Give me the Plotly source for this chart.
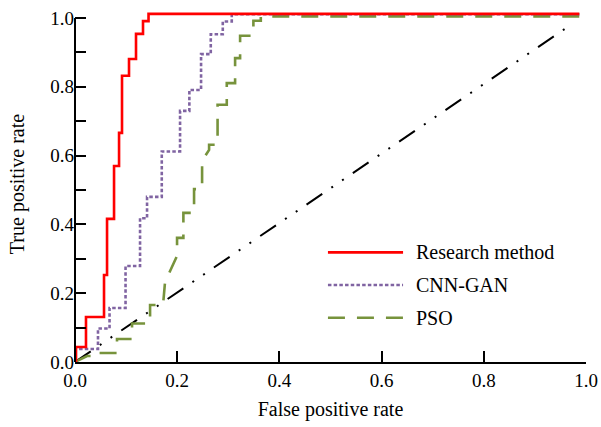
import plotly.graph_objects as go

# ROC curve vertices (False positive rate, True positive rate)
research_fpr = [0.0, 0.002, 0.002, 0.0215, 0.0215, 0.0568, 0.0568, 0.0627, 0.0627, 0.0764, 0.0764,
                0.0862, 0.0862, 0.092, 0.092, 0.1057, 0.1057, 0.1194, 0.1194, 0.1331, 0.1331,
                0.1439, 0.1439, 0.987]
research_tpr = [0.0, 0.0, 0.0436, 0.0436, 0.131, 0.131, 0.253, 0.253, 0.416, 0.416, 0.570,
                0.570, 0.666, 0.666, 0.832, 0.832, 0.881, 0.881, 0.954, 0.954, 0.991,
                0.991, 1.012, 1.012]

cnn_gan_fpr = [0.0, 0.0, 0.045, 0.045, 0.0676, 0.0676, 0.0989, 0.0989, 0.1273, 0.1273, 0.141, 0.141,
               0.1698, 0.1698, 0.2056, 0.2056, 0.2238, 0.2238, 0.2467, 0.2467, 0.2657, 0.2657,
               0.2892, 0.2892, 0.3068, 0.3068, 0.987]
cnn_gan_tpr = [0.0, 0.0378, 0.0378, 0.0975, 0.0975, 0.157, 0.157, 0.279, 0.279, 0.418, 0.418, 0.480,
               0.480, 0.612, 0.612, 0.730, 0.730, 0.791, 0.791, 0.895, 0.895, 0.953,
               0.953, 0.990, 0.990, 1.011, 1.011]

pso_fpr = [0.0, 0.0235, 0.045, 0.045, 0.0822, 0.0822, 0.1116, 0.1116, 0.1469, 0.1469, 0.1723, 0.1762,
           0.1997, 0.1997, 0.2121, 0.2121, 0.233, 0.233, 0.2487, 0.2487, 0.2624, 0.2624, 0.279, 0.279,
           0.297, 0.297, 0.3133, 0.3133, 0.3231, 0.3231, 0.3491, 0.3491, 0.3636, 0.3636, 0.987]
pso_tpr = [0.0, 0.0175, 0.0175, 0.0262, 0.0262, 0.0669, 0.0669, 0.112, 0.112, 0.1658, 0.1658, 0.2328,
           0.3084, 0.3608, 0.3608, 0.4335, 0.4335, 0.5025, 0.5025, 0.5848, 0.6168, 0.6314, 0.6314, 0.7478,
           0.7478, 0.8109, 0.8109, 0.8836, 0.8836, 0.9485, 0.9485, 0.9921, 0.9921, 1.0047, 1.0047]

chance_fpr = [0.0, 0.975]
chance_tpr = [0.0, 0.985]

series_names = ["Research method", "CNN-GAN", "PSO"]
x_ticks = [0.0, 0.2, 0.4, 0.6, 0.8, 1.0]
y_ticks = [0.0, 0.2, 0.4, 0.6, 0.8, 1.0]

FONT = "Times New Roman, Liberation Serif, DejaVu Serif, serif"
RED = "#ff0000"
PURPLE = "#8064a2"
GREEN = "#77933c"
RED_DASH = "solid"
PURPLE_DASH = "3.5px,2.2px"
GREEN_DASH = "17px,12px"

fig = go.Figure()
fig.add_trace(go.Scatter(x=chance_fpr, y=chance_tpr, mode="lines", showlegend=False,
                         line=dict(color="black", width=2, dash="19px,11px,2px,11px,2px,11px")))
fig.add_trace(go.Scatter(x=pso_fpr, y=pso_tpr, mode="lines", name=series_names[2], showlegend=False,
                         line=dict(color=GREEN, width=2.6, dash=GREEN_DASH)))
fig.add_trace(go.Scatter(x=cnn_gan_fpr, y=cnn_gan_tpr, mode="lines", name=series_names[1], showlegend=False,
                         line=dict(color=PURPLE, width=2.6, dash=PURPLE_DASH)))
fig.add_trace(go.Scatter(x=research_fpr, y=research_tpr, mode="lines", name=series_names[0], showlegend=False,
                         line=dict(color=RED, width=2.6, dash=RED_DASH)))

# custom legend (paper coordinates)
legend_y = [0.308, 0.2163, 0.1244]
legend_colors = [RED, PURPLE, GREEN]
shapes = []
annotations = []
for name, yy, col, dsh in zip(series_names, legend_y, legend_colors, [RED_DASH, PURPLE_DASH, GREEN_DASH]):
    shapes.append(dict(type="line", xref="paper", yref="paper", x0=0.495, x1=0.642, y0=yy, y1=yy,
                       line=dict(color=col, width=2.6, dash=dsh)))
    annotations.append(dict(x=0.667, y=yy, xref="paper", yref="paper", text=name, showarrow=False,
                            xanchor="left", yanchor="middle", xshift=-2,
                            font=dict(family=FONT, size=20, color="black")))

Y_TOP = 1.035
# y axis line only up to 1.0
shapes.append(dict(type="line", xref="paper", yref="paper", x0=0, x1=0, y0=0, y1=1.0 / Y_TOP,
                   line=dict(color="black", width=2)))

fig.update_layout(
    width=601, height=427,
    margin=dict(l=75, r=15, t=6, b=65, autoexpand=False),
    plot_bgcolor="white", paper_bgcolor="white",
    font=dict(family=FONT, size=20, color="black"),
    shapes=shapes, annotations=annotations,
    showlegend=False, hovermode=False,
)
fig.update_xaxes(range=[0, 1.0], tickvals=x_ticks, ticktext=[f"{v:.1f}" for v in x_ticks],
                 ticks="inside", ticklen=11, tickwidth=2, tickcolor="black", automargin=False,
                 showline=True, linecolor="black", linewidth=2, showgrid=False, zeroline=False,
                 tickfont=dict(family=FONT, size=19),
                 title=dict(text="False positive rate", font=dict(family=FONT, size=20), standoff=12))
fig.update_yaxes(range=[0, Y_TOP], tickvals=y_ticks, ticktext=[f"{v:.1f}" for v in y_ticks],
                 ticks="inside", ticklen=11, tickwidth=2, tickcolor="black", automargin=False,
                 minor=dict(ticks="inside", ticklen=11, tickwidth=2, tickcolor="black", dtick=0.1, tick0=0,
                            showgrid=False),
                 showline=False, showgrid=False, zeroline=False,
                 tickfont=dict(family=FONT, size=19),
                 title=dict(text="True positive rate", font=dict(family=FONT, size=20), standoff=20))

fig.write_html("out.html", config={"displayModeBar": False},
               post_script="document.body.style.margin='0';document.body.style.padding='0';")
